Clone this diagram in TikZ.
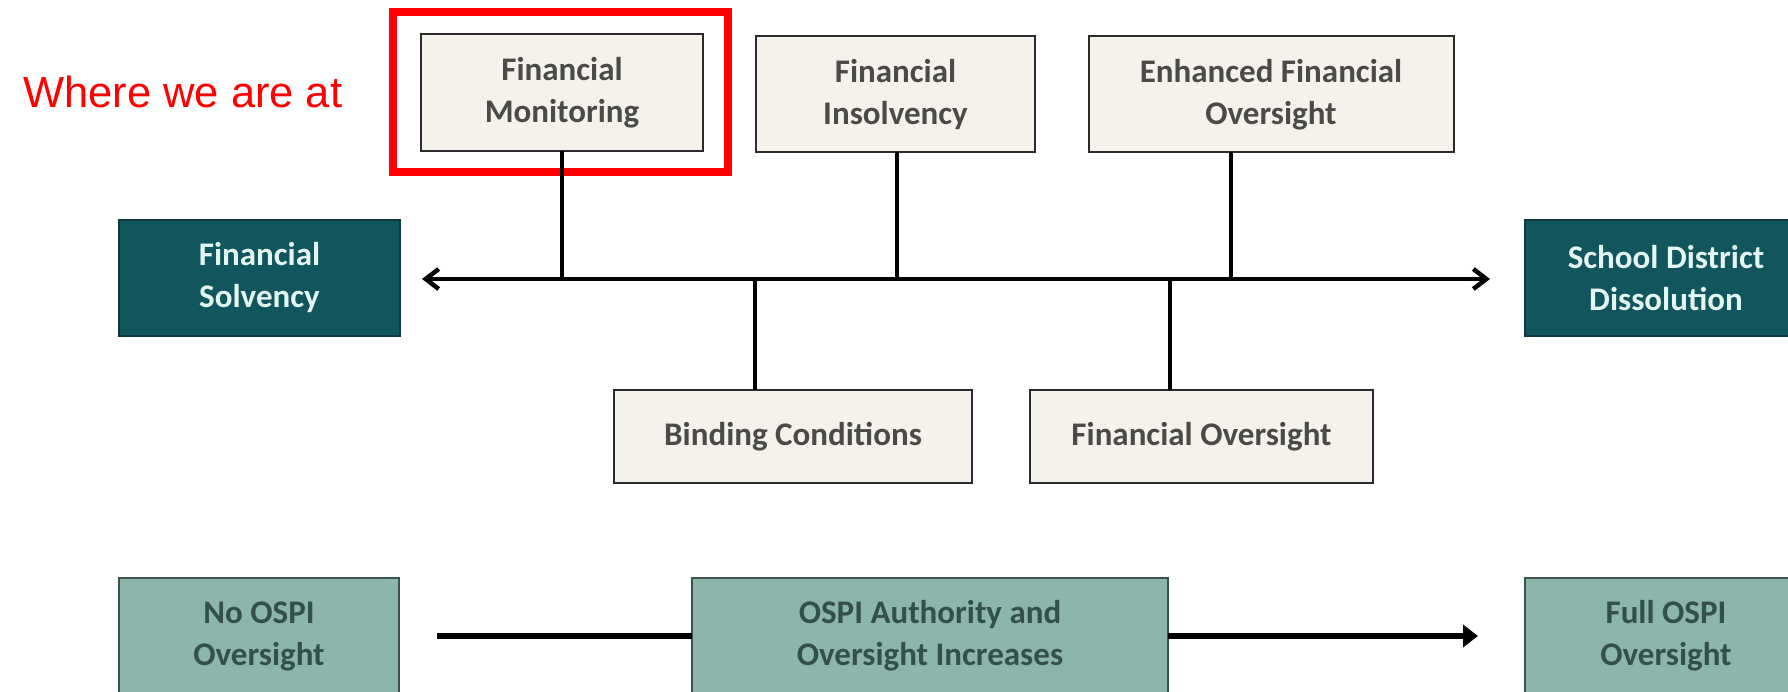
\documentclass[tikz,border=0pt]{standalone}
\usepackage{fontspec}
\setmainfont{Carlito}
\newfontfamily\notefont{Liberation Sans}
\usetikzlibrary{arrows.meta}
\definecolor{creamfill}{HTML}{F4F2EB}
\definecolor{creamtext}{HTML}{4A4A48}
\definecolor{boxline}{HTML}{2B2B2B}
\definecolor{tealfill}{HTML}{11555D}
\definecolor{tealtext}{HTML}{E3F6F1}
\definecolor{tealline}{HTML}{0F3A40}
\definecolor{sagefill}{HTML}{8CB6AB}
\definecolor{sagetext}{HTML}{34504A}
\definecolor{sageline}{HTML}{3E524D}
\definecolor{markred}{HTML}{FF0000}
\tikzset{
  base/.style={rectangle, inner sep=0pt, outer sep=0pt, line width=2pt, align=center,
    font=\fontsize{33}{42}\selectfont\bfseries},
  cream/.style={base, draw=boxline, fill=creamfill, text=creamtext},
  teal/.style={base, draw=tealline, fill=tealfill, text=tealtext},
  sage/.style={base, draw=sageline, fill=sagefill, text=sagetext},
  conn/.style={line width=4.5pt, draw=black},
  bconn/.style={line width=5.5pt, draw=black},
}
\begin{document}
\begin{tikzpicture}[x=1pt, y=-1pt]
\useasboundingbox (0,0) rectangle (1788,692);
% highlight
\node[draw=markred, line width=8pt, minimum width=335pt, minimum height=160pt, inner sep=0pt] (hl) at (560.5,92) {};
\node[anchor=base west, inner sep=0pt, text=markred, font=\notefont\fontsize{43.5}{50}\selectfont] (where) at (23,108) {Where we are at};
% top row
\node[cream, minimum width=282pt, minimum height=117pt] (fm) at (562,92.5) {Financial\\Monitoring};
\node[cream, minimum width=279pt, minimum height=116pt] (fi) at (895.5,94.5) {Financial\\Insolvency};
\node[cream, minimum width=365pt, minimum height=116pt] (efo) at (1271,94.5) {Enhanced Financial\\Oversight};
% ends
\node[teal, minimum width=281pt, minimum height=116pt] (fs) at (259.5,278) {Financial\\Solvency};
\node[teal, minimum width=282pt, minimum height=116pt] (sdd) at (1666,278) {School District\\Dissolution};
% lower row
\node[cream, minimum width=358pt, minimum height=93pt] (bc) at (793,436.5) {Binding Conditions};
\node[cream, minimum width=343pt, minimum height=93pt] (fo) at (1201.5,436.5) {Financial Oversight};
% bottom row
\node[sage, minimum width=280pt, minimum height=116pt] (no) at (259,636) {No OSPI\\Oversight};
\node[sage, minimum width=476pt, minimum height=116pt] (ospi) at (930,636) {OSPI Authority and\\Oversight Increases};
\node[sage, minimum width=282pt, minimum height=116pt] (full) at (1666,636) {Full OSPI\\Oversight};
% axis
\coordinate (L) at (422,279);
\coordinate (R) at (1490,279);
\coordinate (j1) at (562,279);
\coordinate (j2) at (897,279);
\coordinate (j3) at (1231,279);
\coordinate (j4) at (755,279);
\coordinate (j5) at (1170,279);
\draw[conn, {Straight Barb[length=13pt,width=20pt]}-{Straight Barb[length=13pt,width=20pt]}] (L) -- (R);
\draw[conn] (fm.south) -- (j1);
\draw[conn] (j2 |- fi.south) -- (j2);
\draw[conn] (j3 |- efo.south) -- (j3);
\draw[conn] (j4) -- (j4 |- bc.north);
\draw[conn] (j5) -- (j5 |- fo.north);
% bottom arrow
\coordinate (b0) at (437,636);
\coordinate (b1) at (1478,636);
\draw[bconn] (b0) -- (ospi.west);
\draw[bconn, -{Triangle[length=15pt,width=22pt]}] (ospi.east) -- (b1);
\end{tikzpicture}
\end{document}
